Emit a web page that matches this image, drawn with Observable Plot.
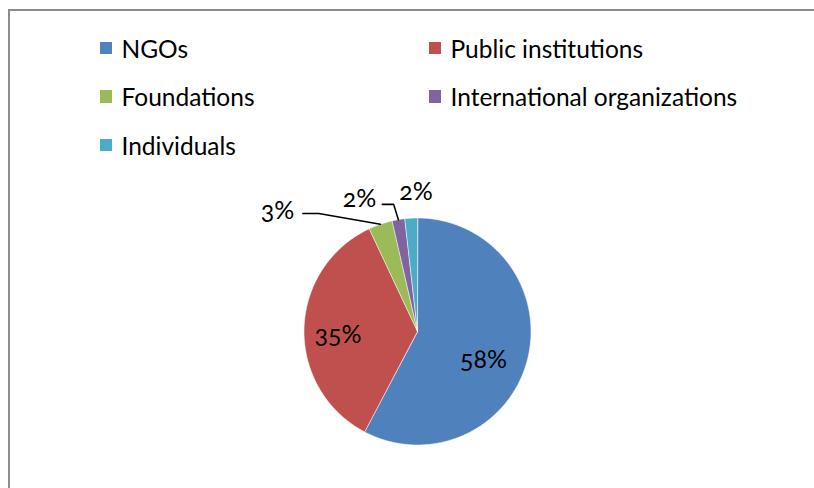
<!DOCTYPE html>
<html><head><meta charset="utf-8">
<script src="https://cdn.jsdelivr.net/npm/d3@7"></script>
<script src="https://cdn.jsdelivr.net/npm/@observablehq/plot@0.6"></script>
<style>
html,body{margin:0;padding:0;background:#fff;}
#wrap{position:relative;width:814px;height:488px;overflow:hidden;font-family:Lato,"Open Sans",sans-serif;}
#border{position:absolute;left:8px;top:9px;width:840px;height:520px;border:2.5px solid #8c8c8c;box-sizing:border-box;}
#chart{position:absolute;left:0;top:0;}
.item{position:absolute;display:flex;align-items:center;height:30px;font-size:24.5px;color:#000;white-space:nowrap;}
.sw{width:12.5px;height:12.5px;margin-right:9.5px;flex:none;}
svg text{font-variant-numeric:oldstyle-nums;}
</style></head>
<body>
<div id="wrap"><div id="border"></div><div id="chart"></div><div id="legend"></div></div>
<script>
// ---- data ----
const categories = ["NGOs", "Public institutions", "Foundations", "International organizations", "Individuals"];
const shares = [57.7, 35.3, 3.4, 1.8, 1.8];
const pctLabels = ["58%", "35%", "3%", "2%", "2%"];
const colors = ["#4F81BD", "#C0504D", "#9BBB59", "#8064A2", "#4BACC6"];

// ---- layout ----
const W = 814, H = 488, CX = 417, CY = 331, R = 113.5;
// label placement (in radius units relative to pie centre); inside labels use radial fraction
const labelLayout = [
  {inside: 0.60, dy: 0.11},
  {inside: 0.70, dy: 0.042},
  {x: -1.233, y: 1.066, leader: [[-0.87, 1.04], [-1.01, 1.04]]},
  {x: -0.511, y: 1.17, leader: [[-0.21, 1.12], [-0.31, 1.12]]},
  {x: -0.013, y: 1.225}
];

const total = d3.sum(shares);
let acc = 0;
const slices = shares.map((v, i) => {
  const a0 = acc / total * 2 * Math.PI; acc += v;
  const a1 = acc / total * 2 * Math.PI;
  return {name: categories[i], a0, a1, mid: (a0 + a1) / 2, label: pctLabels[i]};
});
const pts = slices.flatMap(s => {
  const n = Math.max(2, Math.ceil((s.a1 - s.a0) / (Math.PI / 360)));
  const arr = [{name: s.name, x: 0, y: 0}];
  for (let k = 0; k <= n; k++) {
    const a = s.a0 + (s.a1 - s.a0) * k / n;
    arr.push({name: s.name, x: Math.sin(a), y: Math.cos(a)});
  }
  return arr;
});
const labelData = slices.map((s, i) => {
  const L = labelLayout[i];
  if (L.inside) return {text: s.label, x: Math.sin(s.mid) * L.inside, y: Math.cos(s.mid) * L.inside - L.dy};
  return {text: s.label, x: L.x, y: L.y};
});
const leaders = slices.flatMap((s, i) => {
  const L = labelLayout[i];
  if (!L.leader) return [];
  return [{name: s.name, x: Math.sin(s.mid), y: Math.cos(s.mid)}, ...L.leader.map(([x, y]) => ({name: s.name, x, y}))];
});

const chart = Plot.plot({
  width: W, height: H, margin: 0,
  style: {background: "transparent", fontFamily: "Lato, 'Open Sans', sans-serif"},
  x: {domain: [-CX / R, (W - CX) / R], axis: null},
  y: {domain: [-(H - CY) / R, CY / R], axis: null},
  color: {domain: categories, range: colors},
  marks: [
    Plot.line(pts, {x: "x", y: "y", z: "name", fill: "name", stroke: "white", strokeWidth: 0.7, strokeOpacity: 0.8, curve: "linear-closed"}),
    Plot.line(leaders, {x: "x", y: "y", z: "name", stroke: "black", strokeWidth: 1.6}),
    Plot.text(labelData, {x: "x", y: "y", text: "text", fontSize: 25, fill: "black"})
  ]
});
document.getElementById("chart").appendChild(chart);

// legend (two columns, rows top to bottom)
const legend = d3.select("#legend");
categories.forEach((c, i) => {
  const col = i % 2, row = Math.floor(i / 2);
  const it = legend.append("div").attr("class", "item")
    .style("left", (99.5 + col * 329) + "px")
    .style("top", (48 + row * 48.5 - 15) + "px");
  it.append("div").attr("class", "sw").style("background", colors[i]);
  it.append("span").text(c);
});
</script>
</body></html>
